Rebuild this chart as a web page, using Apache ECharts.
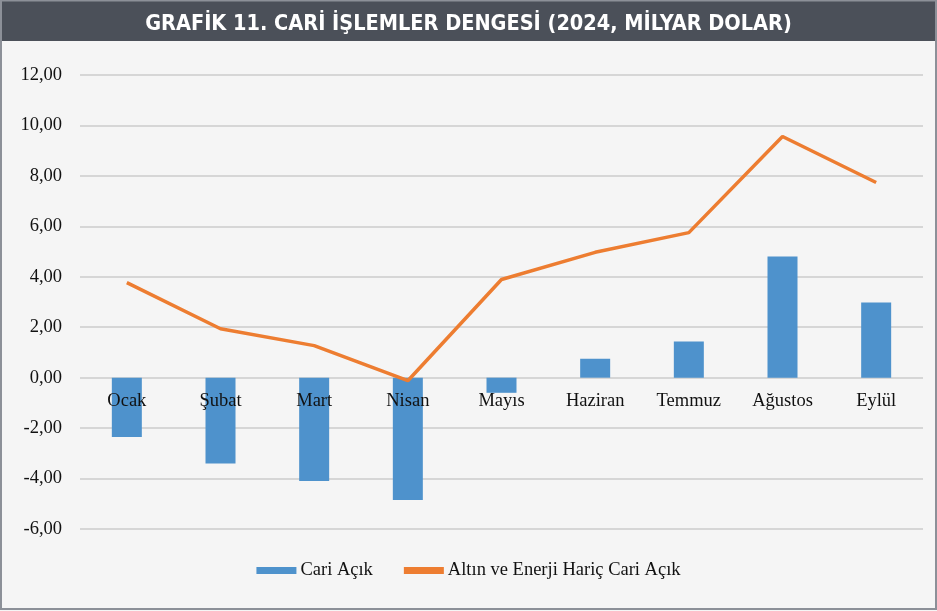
<!DOCTYPE html>
<html>
<head>
<meta charset="utf-8">
<script src="https://cdn.jsdelivr.net/npm/echarts@6/dist/echarts.min.js"></script>
<style>
  html, body { margin: 0; padding: 0; background: #f5f5f5; }
  #main { width: 937px; height: 611px; }
</style>
</head>
<body>
<div id="main"></div>
<script>
var months = ['Ocak', 'Şubat', 'Mart', 'Nisan', 'Mayıs', 'Haziran', 'Temmuz', 'Ağustos', 'Eylül']
var cariAcik = [-2.35, -3.4, -4.1, -4.85, -0.6, 0.75, 1.43, 4.8, 2.98]
var haricCariAcik = [3.77, 1.94, 1.27, -0.12, 3.89, 4.97, 5.75, 9.56, 7.74]

var serif = "'Liberation Serif', 'DejaVu Serif', serif"

var myChart = echarts.init(document.getElementById('main'))

var option = {
  backgroundColor: '#f5f5f5',
  animation: false,
  graphic: [
    {
      type: 'rect',
      shape: { x: 0, y: 0, width: 937, height: 41 },
      style: { fill: '#4b5059' },
      z: 0
    },
    {
      type: 'rect',
      shape: { x: 1, y: 0.5, width: 935, height: 608.5 },
      style: { fill: 'none', stroke: '#8c9098', lineWidth: 2 },
      z: 0
    }
  ],
  title: {
    text: 'GRAFİK 11. CARİ İŞLEMLER DENGESİ (2024, MİLYAR DOLAR)',
    left: 'center',
    top: 8,
    textStyle: {
      color: '#ffffff',
      fontSize: 21.5,
      fontWeight: 'bold',
      fontFamily: "'Liberation Sans Narrow', 'DejaVu Sans Condensed', 'Open Sans', sans-serif"
    }
  },
  legend: {
    bottom: 26,
    left: 'center',
    itemGap: 31,
    itemWidth: 40,
    itemHeight: 7,
    textStyle: { fontFamily: serif, fontSize: 18.5, color: '#111', padding: [0, 0, 0, -1] },
    data: [
      { name: 'Cari Açık', icon: 'rect' },
      { name: 'Altın ve Enerji Hariç Cari Açık', icon: 'rect' }
    ]
  },
  grid: {
    left: 80,
    right: 14,
    top: 75,
    bottom: 82
  },
  xAxis: {
    type: 'category',
    data: months,
    z: 10,
    axisLine: { show: false, onZero: false },
    axisTick: { show: false },
    axisLabel: { fontFamily: serif, fontSize: 18.5, color: '#111', margin: 14 }
  },
  yAxis: {
    type: 'value',
    min: -6,
    max: 12,
    interval: 2,
    axisLine: { show: false },
    axisTick: { show: false },
    splitLine: { lineStyle: { color: '#d6d6d6', width: 2 } },
    axisLabel: {
      fontFamily: serif,
      fontSize: 18.5,
      color: '#111',
      margin: 18,
      formatter: function (v) {
        return v.toFixed(2).replace('.', ',')
      }
    }
  },
  series: [
    {
      name: 'Cari Açık',
      type: 'bar',
      barWidth: 30,
      itemStyle: { color: '#4e92cc' },
      data: cariAcik
    },
    {
      name: 'Altın ve Enerji Hariç Cari Açık',
      type: 'line',
      symbol: 'none',
      z: 3,
      lineStyle: { color: '#ed7d31', width: 3.5 },
      itemStyle: { color: '#ed7d31' },
      data: haricCariAcik
    }
  ]
}

myChart.setOption(option)

// category labels sit on the zero line, move the x axis up to it
var zeroY = myChart.convertToPixel({ yAxisIndex: 0 }, 0)
var bottomY = myChart.convertToPixel({ yAxisIndex: 0 }, -6)
myChart.setOption({ xAxis: { offset: zeroY - bottomY } })
</script>
</body>
</html>
